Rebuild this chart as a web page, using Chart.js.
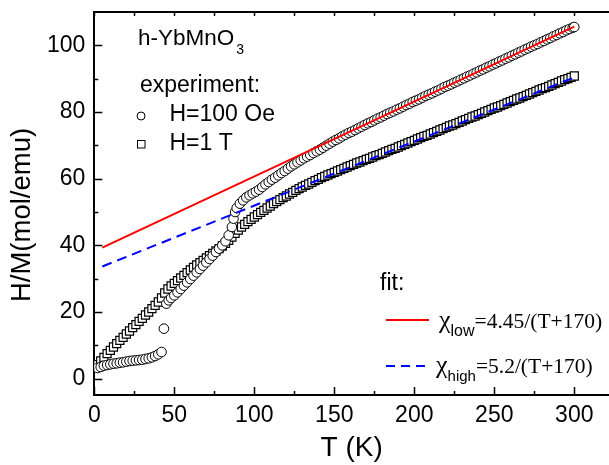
<!DOCTYPE html>
<html><head><meta charset="utf-8">
<script src="https://cdn.jsdelivr.net/npm/chart.js@4/dist/chart.umd.min.js"></script>
<style>html,body{margin:0;padding:0;background:#fff}canvas{display:block}</style>
</head><body>
<canvas id="c" width="609" height="465"></canvas>
<script>
// ---- data ----
const T_100Oe = [2,4,6,8,10,12,14,16,18,20,22,24,26,28,30,32,34,36,38,40,42,43.5,45,46.5,48,50,52,54,56,58,60,62,64,66,68,70,72,74,76,78,80,82,84,86,87,88,89,91,93,95,97,
  99,101,103,105,107,109,111,113,115,117,119,121,123,125,127,129,131,133,135,137,139,141,143,145,147,149,151,153,155,157,159,161,163,165,167,169,171,173,175,177,179,181,183,185,187,189,191,193,195,197,199,
  201,203,205,207,209,211,213,215,217,219,221,223,225,227,229,231,233,235,237,239,241,243,245,247,249,251,253,255,257,259,261,263,265,267,269,271,273,275,277,279,281,283,285,287,289,291,293,295,297,299,300];
const HM_100Oe = [3.2,3.5,3.9,4.1,4.3,4.5,4.6,4.8,4.9,5.1,5.3,5.4,5.5,5.6,5.7,5.9,6.1,6.4,6.8,7.3,8.0,15.0,22.5,23.5,24.2,25.0,25.9,26.9,27.9,28.9,29.9,30.9,31.9,32.9,33.9,34.9,35.9,36.9,38.0,39.0,40.0,41.2,43.0,45.5,48.0,50.0,51.2,52.5,53.5,54.4,55.0,
  55.6,56.1,56.7,57.5,58.3,59.0,59.7,60.3,61.0,61.7,62.3,63.0,63.7,64.3,64.9,65.5,66.1,66.6,67.1,67.7,68.2,68.7,69.3,69.9,70.5,71.1,71.6,72.1,72.7,73.2,73.7,74.1,74.6,75.1,75.6,76.1,76.6,77.0,77.5,78.0,78.4,78.9,79.4,79.8,80.2,80.7,81.1,81.6,82.1,82.5,83.0,
  83.4,83.8,84.3,84.8,85.2,85.6,86.1,86.5,87.0,87.5,87.9,88.3,88.8,89.2,89.7,90.1,90.6,91.0,91.5,91.9,92.4,92.8,93.3,93.7,94.2,94.6,95.1,95.5,96.0,96.4,96.9,97.3,97.8,98.2,98.7,99.1,99.6,100.0,100.4,100.9,101.3,101.8,102.2,102.7,103.1,103.6,104.0,104.5,104.9,105.3,105.5];
const T_1T = [2,4,6,8,10,12,14,16,18,20,22,24,26,28,30,32,34,36,38,40,42,44,46,48,50,52,54,56,58,60,62,64,66,68,70,72,74,76,78,80,82,84,86,88,90,92,94,96,98,100,
  102,104,106,108,110,112,114,116,118,120,122,124,126,128,130,132,134,136,138,140,142,144,146,148,150,152,154,156,158,160,162,164,166,168,170,172,174,176,178,180,182,184,186,188,190,192,194,196,198,200,
  202,204,206,208,210,212,214,216,218,220,222,224,226,228,230,232,234,236,238,240,242,244,246,248,250,252,254,256,258,260,262,264,266,268,270,272,274,276,278,280,282,284,286,288,290,292,294,296,298,300];
const HM_1T = [4.2,5.3,6.4,7.5,8.5,9.5,10.5,11.5,12.4,13.4,14.3,15.3,16.2,17.2,18.1,19.1,20.0,21.0,22.0,23.0,24.2,25.7,26.9,27.8,28.6,29.4,30.2,31.0,31.8,32.6,33.4,34.1,34.8,35.5,36.2,36.9,37.6,38.3,39.0,39.8,40.6,41.5,42.5,43.6,44.6,45.5,46.3,47.1,47.8,48.5,
  49.2,49.9,50.5,51.2,51.8,52.5,53.1,53.7,54.3,54.8,55.4,55.9,56.5,57.0,57.5,58.0,58.4,58.9,59.4,59.8,60.3,60.7,61.1,61.5,61.9,62.3,62.7,63.1,63.5,63.9,64.3,64.7,65.0,65.4,65.8,66.1,66.5,66.9,67.2,67.6,68.0,68.4,68.8,69.1,69.5,69.9,70.3,70.7,71.1,71.5,
  71.9,72.3,72.7,73.0,73.4,73.8,74.2,74.6,75.0,75.4,75.8,76.1,76.5,76.9,77.3,77.7,78.1,78.5,78.8,79.2,79.6,80.0,80.4,80.8,81.2,81.5,81.9,82.3,82.7,83.1,83.5,83.9,84.2,84.6,85.0,85.4,85.8,86.2,86.6,87.0,87.3,87.7,88.1,88.5,88.9,89.3,89.7,90.0,90.4,90.8];
const fitT = [5, 300];
const fitLow = [39.33, 105.62];   // chi_low = 4.45/(T+170)
const fitHigh = [33.65, 90.38];   // chi_high = 5.2/(T+170)
const xTicks = [0,50,100,150,200,250,300];
const xMinorTicks = [25,75,125,175,225,275];
const yTicks = [0,20,40,60,80,100];
const yMinorTicks = [10,30,50,70,90];

const SANS = '"Liberation Sans", Arial, sans-serif';
const SERIF = '"Liberation Serif", "Times New Roman", serif';

const pts = (xs, ys) => xs.map((x, i) => ({x, y: ys[i]}));

const deco = {
  id: 'deco',
  afterDraw(chart) {
    const ctx = chart.ctx, a = chart.chartArea;
    const xs = chart.scales.x, ys = chart.scales.y;
    ctx.save();
    ctx.strokeStyle = '#000'; ctx.lineWidth = 2;
    // top frame line
    ctx.beginPath(); ctx.moveTo(a.left - 1, a.top); ctx.lineTo(a.right, a.top); ctx.stroke();
    ctx.lineWidth = 1.5;
    const xt = (vals, len, topLen) => vals.forEach(v => {
      const p = Math.round(xs.getPixelForValue(v)) + 0.5;
      ctx.beginPath(); ctx.moveTo(p, a.bottom); ctx.lineTo(p, a.bottom - len); ctx.stroke();
      ctx.beginPath(); ctx.moveTo(p, a.top); ctx.lineTo(p, a.top + topLen); ctx.stroke();
    });
    xt(xTicks, 8, 4); xt(xMinorTicks, 4, 4);
    const yt = (vals, len) => vals.forEach(v => {
      const p = Math.round(ys.getPixelForValue(v)) + 0.5;
      ctx.beginPath(); ctx.moveTo(a.left, p); ctx.lineTo(a.left + len, p); ctx.stroke();
    });
    yt(yTicks, 8); yt(yMinorTicks, 4);

    // y title
    ctx.fillStyle = '#000';
    ctx.save();
    ctx.translate(22, 215); ctx.rotate(-Math.PI / 2);
    ctx.textAlign = 'center'; ctx.textBaseline = 'middle';
    ctx.font = '27.5px ' + SANS;
    ctx.fillText('H/M(mol/emu)', 0, 0);
    ctx.restore();

    // annotations
    ctx.textAlign = 'left'; ctx.textBaseline = 'alphabetic';
    ctx.font = '22.5px ' + SANS;
    ctx.fillText('h-YbMnO', 138, 45);
    const w = ctx.measureText('h-YbMnO').width;
    ctx.font = '14px ' + SANS;
    ctx.fillText('3', 138 + w + 2, 54);
    ctx.font = '23px ' + SANS;
    ctx.fillText('experiment:', 140, 92);
    ctx.fillText('H=100 Oe', 169.5, 120.5);
    ctx.fillText('H=1 T', 169.5, 150);
    ctx.fillText('fit:', 380, 290);
    // legend markers
    ctx.lineWidth = 1;
    ctx.beginPath(); ctx.arc(141, 116, 4, 0, Math.PI * 2); ctx.fillStyle = '#fff'; ctx.fill(); ctx.stroke();
    ctx.strokeRect(137.5, 140.5, 7.5, 7.5);
    // fit legend
    ctx.lineWidth = 2;
    ctx.strokeStyle = '#ff0000';
    ctx.beginPath(); ctx.moveTo(386, 320); ctx.lineTo(429, 320); ctx.stroke();
    ctx.strokeStyle = '#0000ff'; ctx.setLineDash([9, 6]);
    ctx.beginPath(); ctx.moveTo(386, 366); ctx.lineTo(429, 366); ctx.stroke();
    ctx.setLineDash([]);
    ctx.fillStyle = '#000';
    const chiRow = (sub, subSize, rest, x, y) => {
      ctx.font = '26px ' + SERIF;
      ctx.fillText('\u03C7', x, y);
      let cx = x + ctx.measureText('\u03C7').width;
      ctx.font = subSize + 'px ' + SANS;
      ctx.fillText(sub, cx, y + 8);
      cx += ctx.measureText(sub).width;
      ctx.font = '21.5px ' + SERIF;
      ctx.fillText(rest, cx, y);
    };
    chiRow('low', 16, '=4.45/(T+170)', 439, 328);
    chiRow('high', 15, '=5.2/(T+170)', 436, 373);
    ctx.restore();
  }
};

new Chart(document.getElementById('c'), {
  type: 'scatter',
  data: {
    datasets: [
      { label: 'fit low', data: pts(fitT, fitLow), showLine: true, pointRadius: 0, borderColor: '#ff0000', borderWidth: 2, fill: false },
      { label: 'fit high', data: pts(fitT, fitHigh), showLine: true, pointRadius: 0, borderColor: '#0000ff', borderWidth: 2, borderDash: [10, 6], fill: false },
      { label: 'H=100 Oe', data: pts(T_100Oe, HM_100Oe), pointStyle: 'circle', pointRadius: 4.8, borderWidth: 1, borderColor: '#000', backgroundColor: '#fff' },
      { label: 'H=1 T', data: pts(T_1T, HM_1T), pointStyle: 'rect', pointRadius: 5.7, borderWidth: 1.2, borderColor: '#000', backgroundColor: '#fff' }
    ]
  },
  options: {
    responsive: false, animation: false, devicePixelRatio: 1,
    layout: { autoPadding: false, padding: { top: 12, right: 0, left: 0, bottom: 0 } },
    plugins: { legend: { display: false }, tooltip: { enabled: false } },
    scales: {
      x: {
        type: 'linear', min: 0, max: 321.7,
        afterBuildTicks: s => { s.ticks = xTicks.map(v => ({ value: v })); },
        afterFit: s => { s.height = 70; s.paddingLeft = 0; s.paddingRight = 0; },
        grid: { display: false, drawTicks: false },
        border: { display: true, color: '#000', width: 2 },
        ticks: { color: '#000', font: { family: SANS, size: 23 }, padding: 7, maxRotation: 0, autoSkip: false },
        title: { display: true, text: 'T (K)', color: '#000', font: { family: SANS, size: 28 }, padding: { top: 0, bottom: 0 } }
      },
      y: {
        type: 'linear', min: -4.9, max: 110,
        afterBuildTicks: s => { s.ticks = yTicks.map(v => ({ value: v })); },
        afterFit: s => { s.width = 94.3; s.paddingTop = 0; s.paddingBottom = 0; },
        grid: { display: false, drawTicks: false },
        border: { display: true, color: '#000', width: 2 },
        ticks: { color: '#000', font: { family: SANS, size: 23 }, padding: 9, autoSkip: false }
      }
    }
  },
  plugins: [deco]
});
</script>
</body></html>
